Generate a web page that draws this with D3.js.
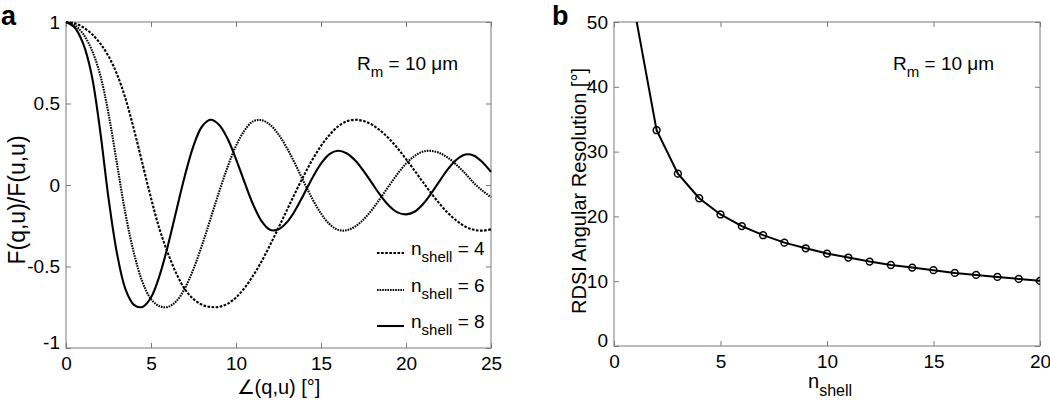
<!DOCTYPE html>
<html><head><meta charset="utf-8">
<script src="https://cdn.jsdelivr.net/npm/d3@7"></script>
<style>
body{margin:0;background:#fff;}
svg text{font-family:"Liberation Sans",Arial,Helvetica,sans-serif;fill:#000;}
</style></head><body>
<svg id="c" width="1050" height="401"></svg>
<script>
// ---------- Panel a data ----------
const angles = [0,0.5,1,1.5,2,2.5,3,3.5,4,4.5,5,5.5,6,6.5,7,7.5,8,8.5,9,9.5,10,10.5,11,11.5,12,12.5,13,13.5,14,14.5,15,15.5,16,16.5,17,17.5,18,18.5,19,19.5,20,20.5,21,21.5,22,22.5,23,23.5,24,24.5,25];
const nshell4 = [1.000,0.992,0.968,0.928,0.870,0.790,0.680,0.530,0.340,0.130,-0.080,-0.270,-0.420,-0.545,-0.640,-0.700,-0.735,-0.748,-0.748,-0.729,-0.690,-0.632,-0.557,-0.469,-0.369,-0.262,-0.153,-0.044,0.060,0.156,0.240,0.307,0.359,0.390,0.400,0.392,0.370,0.333,0.285,0.226,0.159,0.089,0.017,-0.053,-0.118,-0.175,-0.221,-0.256,-0.275,-0.280,-0.272];
const nshell6 = [1.000,0.981,0.928,0.832,0.680,0.438,0.130,-0.178,-0.420,-0.595,-0.700,-0.743,-0.748,-0.712,-0.632,-0.515,-0.369,-0.208,-0.044,0.109,0.240,0.334,0.390,0.398,0.370,0.310,0.226,0.125,0.017,-0.087,-0.175,-0.240,-0.275,-0.278,-0.255,-0.212,-0.152,-0.080,-0.005,0.068,0.131,0.178,0.205,0.209,0.195,0.165,0.121,0.069,0.011,-0.035,-0.075];
const nshell8 = [1.000,0.968,0.870,0.680,0.340,-0.080,-0.420,-0.640,-0.735,-0.748,-0.690,-0.557,-0.369,-0.153,0.060,0.240,0.359,0.400,0.370,0.285,0.159,0.017,-0.118,-0.221,-0.275,-0.272,-0.228,-0.152,-0.055,0.045,0.131,0.190,0.210,0.195,0.152,0.087,0.011,-0.064,-0.127,-0.168,-0.180,-0.164,-0.117,-0.049,0.028,0.102,0.158,0.187,0.180,0.140,0.080];
const legendValues = ["4","6","8"];
const ticksAx = [0,5,10,15,20,25];
const ticksAy = [-1,-0.5,0,0.5,1];

// ---------- Panel b data ----------
const nShell = [1,2,3,4,5,6,7,8,9,10,11,12,13,14,15,16,17,18,19,20];
const resolution = [51.2,33.3,26.6,22.8,20.3,18.5,17.1,15.95,15.08,14.26,13.65,13.03,12.5,12.1,11.7,11.28,10.97,10.66,10.35,10.05];
const ticksBx = [0,5,10,15,20];
const ticksBy = [0,10,20,30,40,50];

const svg = d3.select("#c");
const AX = "#7a7a7a";
const FS = 19;

function frame(g, x, y, xt, yt, fmtY) {
  const [x0,x1] = x.range(), [y1,y0] = y.range();
  g.append("rect").attr("x",x0).attr("y",y0).attr("width",x1-x0).attr("height",y1-y0)
    .attr("fill","none").attr("stroke",AX).attr("stroke-width",1);
  const bx = g.append("g").attr("transform",`translate(0,${y1})`)
    .call(d3.axisBottom(x).tickValues(xt).tickSize(-5).tickPadding(9).tickFormat(d3.format("d")));
  const tx = g.append("g").attr("transform",`translate(0,${y0})`)
    .call(d3.axisTop(x).tickValues(xt).tickSize(-5).tickFormat(""));
  const ly = g.append("g").attr("transform",`translate(${x0},0)`)
    .call(d3.axisLeft(y).tickValues(yt).tickSize(-5).tickPadding(6).tickFormat(fmtY));
  const ry = g.append("g").attr("transform",`translate(${x1},0)`)
    .call(d3.axisRight(y).tickValues(yt).tickSize(-5).tickFormat(""));
  [bx,tx,ly,ry].forEach(a=>{
    a.select(".domain").remove();
    a.selectAll(".tick line").attr("stroke",AX);
    a.selectAll("text").attr("font-size",FS).attr("font-family",null).attr("fill","#000");
  });
  // lowest y label nudged up, as in the original
  ly.selectAll(".tick").filter(d=>d===yt[0]).select("text").attr("dy","0.0em");
}

// ---------- Panel a ----------
const ga = svg.append("g");
const xa = d3.scaleLinear().domain([0,25]).range([66,491]);
const ya = d3.scaleLinear().domain([-1,1]).range([348,22]);
frame(ga, xa, ya, ticksAx, ticksAy, d => String(d));

const series = [
  {vals:nshell4, dash:"2.6,1.5"},
  {vals:nshell6, dash:"1.6,1.0"},
  {vals:nshell8, dash:null}
];
const lineA = d3.line().x((d,i)=>xa(angles[i])).y(d=>ya(d)).curve(d3.curveCatmullRom.alpha(0.5));
series.forEach(s=>{
  ga.append("path").datum(s.vals).attr("d",lineA).attr("fill","none")
    .attr("stroke","#000").attr("stroke-width",2.1)
    .attr("stroke-dasharray",s.dash);
});

// legend
const legY = [253,290,326];
series.forEach((s,i)=>{
  ga.append("line").attr("x1",377).attr("x2",404).attr("y1",legY[i]).attr("y2",legY[i])
    .attr("stroke","#000").attr("stroke-width",2.1).attr("stroke-dasharray",s.dash);
  const t = ga.append("text").attr("x",411).attr("y",legY[i]+2).attr("font-size",FS);
  t.append("tspan").text("n");
  t.append("tspan").attr("dy",7).attr("font-size",15).text("shell");
  t.append("tspan").attr("dy",-7).text(" = " + legendValues[i]);
});

function rmText(g, x, y){
  const t = g.append("text").attr("x",x).attr("y",y).attr("font-size",FS);
  t.append("tspan").text("R");
  t.append("tspan").attr("dy",7).attr("font-size",15).text("m");
  t.append("tspan").attr("dy",-7).text(" = 10 \u03BCm");
}
rmText(ga, 357, 70);

ga.append("text").attr("x",(66+491)/2).attr("y",394).attr("text-anchor","middle")
  .attr("font-size",FS+1).text("\u2220(q,u) [\u00B0]");
ga.append("text").attr("transform","translate(25,200) rotate(-90)").attr("text-anchor","middle")
  .attr("font-size",23).text("F(q,u)/F(u,u)");
svg.append("text").attr("x",1).attr("y",25).attr("font-size",27).attr("font-weight","bold").text("a");

// ---------- Panel b ----------
const gb = svg.append("g");
const xb = d3.scaleLinear().domain([0,20]).range([614,1040]);
const yb = d3.scaleLinear().domain([0,50]).range([346,22]);
frame(gb, xb, yb, ticksBx, ticksBy, d3.format("d"));

svg.append("clipPath").attr("id","clipb").append("rect")
  .attr("x",614).attr("y",22).attr("width",426).attr("height",324);
const pts = nShell.map((n,i)=>({n, v:resolution[i]}));
const lineB = d3.line().x(d=>xb(d.n)).y(d=>yb(d.v));
const pb = gb.append("g").attr("clip-path","url(#clipb)");
pb.append("path").datum(pts).attr("d",lineB).attr("fill","none")
  .attr("stroke","#000").attr("stroke-width",2);
pb.selectAll("circle").data(pts).join("circle")
  .attr("cx",d=>xb(d.n)).attr("cy",d=>yb(d.v)).attr("r",3.4)
  .attr("fill","none").attr("stroke","#000").attr("stroke-width",1.5);

rmText(gb, 893, 70);

const xl = gb.append("text").attr("x",808).attr("y",388).attr("font-size",FS+1);
xl.append("tspan").text("n");
xl.append("tspan").attr("dy",8).attr("font-size",16).text("shell");
gb.append("text").attr("transform","translate(586,191) rotate(-90)").attr("text-anchor","middle")
  .attr("font-size",FS+1).text("RDSI Angular Resolution [\u00B0]");
svg.append("text").attr("x",552).attr("y",25).attr("font-size",27).attr("font-weight","bold").text("b");
</script>
</body></html>
